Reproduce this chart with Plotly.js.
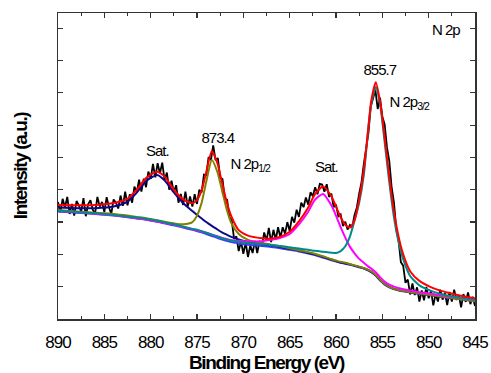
<!DOCTYPE html>
<html>
<head>
<meta charset="utf-8">
<script src="https://cdn.plot.ly/plotly-3.0.1.min.js"></script>
<style>
html,body{margin:0;padding:0;background:#fff;}
#chart{width:491px;height:373px;}
#chart text{letter-spacing:-1px;}
#chart .g-xtitle text, #chart .g-ytitle text{letter-spacing:-1.4px;}
</style>
</head>
<body>
<div id="chart"></div>
<script>
// Raw spectrum (binding energy, eV) and intensity (a.u.)
const rawE = [890.00,889.75,889.50,889.25,889.00,888.75,888.50,888.25,888.00,887.75,887.50,887.25,887.00,886.75,886.50,886.25,886.00,885.75,885.50,885.25,885.00,884.75,884.50,884.25,884.00,883.75,883.50,883.25,883.00,882.75,882.50,882.25,882.00,881.75,881.50,881.25,881.00,880.75,880.50,880.25,880.00,879.75,879.50,879.25,879.00,878.75,878.50,878.25,878.00,877.75,877.50,877.25,877.00,876.75,876.50,876.25,876.00,875.75,875.50,875.25,875.00,874.75,874.50,874.25,874.00,873.75,873.50,873.25,873.00,872.75,872.50,872.25,872.00,871.75,871.50,871.25,871.00,870.75,870.50,870.25,870.00,869.75,869.50,869.25,869.00,868.75,868.50,868.25,868.00,867.75,867.50,867.25,867.00,866.75,866.50,866.25,866.00,865.75,865.50,865.25,865.00,864.75,864.50,864.25,864.00,863.75,863.50,863.25,863.00,862.75,862.50,862.25,862.00,861.75,861.50,861.25,861.00,860.75,860.50,860.25,860.00,859.75,859.50,859.25,859.00,858.75,858.50,858.25,858.00,857.75,857.50,857.25,857.00,856.75,856.50,856.25,856.00,855.75,855.50,855.25,855.00,854.75,854.50,854.25,854.00,853.75,853.50,853.25,853.00,852.75,852.50,852.25,852.00,851.75,851.50,851.25,851.00,850.75,850.50,850.25,850.00,849.75,849.50,849.25,849.00,848.75,848.50,848.25,848.00,847.75,847.50,847.25,847.00,846.75,846.50,846.25,846.00,845.75,845.50,845.25,845.00];
const rawI = [3.62,3.30,3.72,3.45,3.78,3.25,3.56,3.20,3.65,3.52,3.32,3.74,3.18,3.55,3.68,3.38,3.26,3.78,3.48,3.62,3.31,3.77,3.46,3.25,3.70,3.60,3.42,3.82,3.50,3.94,3.52,3.86,3.60,4.10,3.92,4.31,3.94,4.34,4.08,4.56,4.34,4.80,4.38,4.82,4.51,4.84,4.30,4.53,4.00,4.28,3.93,4.14,3.60,3.87,3.53,3.94,3.48,3.79,3.48,3.86,3.56,4.00,3.92,4.47,4.45,5.01,4.92,5.37,4.92,4.98,4.38,4.33,3.73,3.69,3.15,3.05,2.48,2.56,2.10,2.40,2.02,2.36,1.92,2.28,2.04,2.42,2.04,2.42,2.25,2.68,2.42,2.82,2.38,2.76,2.46,2.84,2.52,2.84,2.64,3.00,2.72,3.16,2.98,3.38,3.16,3.60,3.46,3.76,3.54,3.92,3.80,4.08,3.86,4.18,4.16,3.94,4.17,3.78,3.88,3.46,3.54,3.18,3.24,2.88,3.01,2.77,2.91,2.84,3.22,3.45,3.88,4.23,4.79,5.26,5.75,6.57,6.80,7.09,6.50,6.85,6.27,6.02,5.31,4.89,4.09,3.62,2.80,2.43,1.76,1.65,1.12,1.22,0.76,1.10,0.74,0.98,0.54,0.88,0.58,0.99,0.64,0.87,0.42,0.77,0.54,0.91,0.60,0.80,0.43,0.84,0.54,0.91,0.59,0.74,0.36,0.77,0.53,0.82,0.46,0.69,0.40];

// Fit curves sampled on a common energy grid
const fitE = [890,888,886,884,882.5,881.5,880.5,879.3,878.5,877.5,876.5,875.5,875,874.5,874,873.4,872.8,872.3,871.8,871.3,870.5,869.5,868,867,866,865,864,863,862.3,861.4,860.5,860,859.5,859,858.5,858,857.5,857,856.5,856.2,855.7,855.2,854.8,854.3,853.8,853.3,852.8,852,851,850,849,848,847,846,845];
const background = [3.33,3.29,3.25,3.20,3.15,3.11,3.07,3.01,2.96,2.90,2.83,2.76,2.72,2.68,2.63,2.57,2.51,2.46,2.42,2.38,2.34,2.30,2.26,2.23,2.19,2.14,2.09,2.03,1.98,1.90,1.82,1.78,1.74,1.71,1.68,1.64,1.60,1.56,1.50,1.45,1.34,1.18,1.08,0.99,0.93,0.89,0.86,0.82,0.78,0.74,0.70,0.66,0.63,0.59,0.55];
const satHigh = [3.45,3.43,3.43,3.48,3.63,3.91,4.27,4.46,4.29,3.92,3.59,3.34,3.22,3.11,3.00,2.88,2.77,2.68,2.61,2.54,2.46,2.39,2.32,2.28,2.23,2.17,2.12,2.05,2.00,1.92,1.84,1.79,1.75,1.72,1.69,1.65,1.61,1.57,1.51,1.46,1.35,1.19,1.09,1.00,0.94,0.90,0.87,0.83,0.79,0.75,0.71,0.67,0.64,0.60,0.56];
const p12 = [3.37,3.33,3.29,3.25,3.20,3.16,3.12,3.06,3.01,2.96,2.93,3.00,3.20,3.60,4.25,4.92,4.55,3.98,3.40,2.97,2.63,2.45,2.35,2.30,2.25,2.19,2.13,2.07,2.02,1.94,1.85,1.81,1.77,1.74,1.70,1.66,1.62,1.58,1.52,1.47,1.36,1.20,1.10,1.00,0.94,0.90,0.87,0.83,0.79,0.75,0.71,0.67,0.63,0.59,0.55];
const satLow = [3.34,3.30,3.26,3.21,3.16,3.12,3.08,3.02,2.97,2.92,2.85,2.78,2.74,2.71,2.67,2.61,2.56,2.51,2.48,2.44,2.42,2.40,2.41,2.45,2.51,2.63,2.93,3.32,3.68,3.87,3.52,3.20,2.84,2.52,2.24,2.03,1.86,1.74,1.62,1.56,1.44,1.28,1.17,1.07,1.01,0.96,0.93,0.88,0.83,0.79,0.75,0.70,0.67,0.62,0.58];
const p32 = [3.35,3.31,3.27,3.22,3.17,3.14,3.10,3.04,2.99,2.93,2.86,2.79,2.76,2.72,2.67,2.61,2.55,2.50,2.46,2.43,2.39,2.35,2.32,2.29,2.26,2.22,2.18,2.14,2.11,2.08,2.05,2.04,2.10,2.25,2.55,3.05,3.60,4.45,5.95,6.65,7.18,6.55,5.60,4.35,3.25,2.45,1.90,1.33,1.04,0.90,0.80,0.73,0.68,0.63,0.59];
const envelope = [3.53,3.52,3.53,3.59,3.72,4.00,4.36,4.56,4.41,4.00,3.70,3.58,3.68,3.98,4.55,5.20,4.82,4.22,3.62,3.18,2.75,2.58,2.50,2.49,2.55,2.70,3.02,3.45,3.85,4.10,3.80,3.48,3.15,2.92,2.83,3.05,3.70,4.60,5.95,6.75,7.33,6.65,5.75,4.52,3.42,2.62,2.05,1.48,1.18,1.02,0.90,0.82,0.75,0.69,0.64];

const xTickVals = [890,885,880,875,870,865,860,855,850,845];
const xTickText = ["890","885","880","875","870","865","860","855","850","845"];

const labels = [
  {text:"Sat.", x:879.3, y:5.23, anchor:"center", size:15},
  {text:"873.4", x:872.7, y:5.63, anchor:"center", size:15},
  {text:"N 2p<sub>1/2</sub>", x:872.0, y:4.77, anchor:"left", size:15},
  {text:"Sat.", x:861.0, y:4.71, anchor:"center", size:15},
  {text:"855.7", x:855.25, y:7.71, anchor:"center", size:15},
  {text:"N 2p<sub>3/2</sub>", x:854.85, y:6.69, anchor:"left", size:15},
  {text:"N 2p", x:850.1, y:8.95, anchor:"left", size:15}
];

function fit(y, color, w){
  return {x:fitE, y:y, mode:"lines", line:{color:color, width:w||2, shape:"spline", smoothing:0.6}, hoverinfo:"skip", showlegend:false};
}

const traces = [
  {x:rawE, y:rawI, mode:"lines", line:{color:"#000000", width:1.8}, showlegend:false},
  fit(background, "#3b3bff", 2),
  fit(satHigh, "#0a0a8a", 2),
  fit(p12, "#808000", 2),
  fit(satLow, "#ff00ff", 2),
  fit(p32, "#008b8b", 2),
  fit(envelope, "#ff0000", 2)
];

const axisLine = {showline:true, linecolor:"#333", linewidth:1.5, mirror:"allticks", ticks:"inside", tickcolor:"#333", tickwidth:1.2, showgrid:false, zeroline:false};

const layout = {
  width:491, height:373,
  margin:{l:58, r:16, t:13, b:54},
  paper_bgcolor:"#fff", plot_bgcolor:"#fff",
  font:{family:"Liberation Sans, Arial, sans-serif", color:"#000"},
  showlegend:false,
  xaxis:Object.assign({}, axisLine, {
    range:[890,845], tickmode:"array", tickvals:xTickVals, ticktext:xTickText,
    ticklen:5, ticklabelstandoff:7, tickfont:{size:17, family:"Liberation Sans, Arial, sans-serif"},
    minor:{dtick:2.5, tick0:845, ticks:"inside", ticklen:3, tickcolor:"#333", showgrid:false},
    title:{text:"<b>Binding Energy (eV)</b>", font:{size:19, family:"Liberation Sans, Arial, sans-serif"}, standoff:3}
  }),
  yaxis:Object.assign({}, axisLine, {
    range:[0,9.47], dtick:1, tick0:0, ticklen:5, showticklabels:false,
    title:{text:"<b>Intensity (a.u.)</b>", font:{size:19, family:"Liberation Sans, Arial, sans-serif"}, standoff:24}
  }),
  annotations: labels.map(l => ({text:l.text, x:l.x, y:l.y, xref:"x", yref:"y", xanchor:l.anchor, yanchor:"middle", showarrow:false, font:{size:l.size, color:"#000"}}))
};

Plotly.newPlot("chart", traces, layout, {displayModeBar:false, staticPlot:true});
</script>
</body>
</html>
